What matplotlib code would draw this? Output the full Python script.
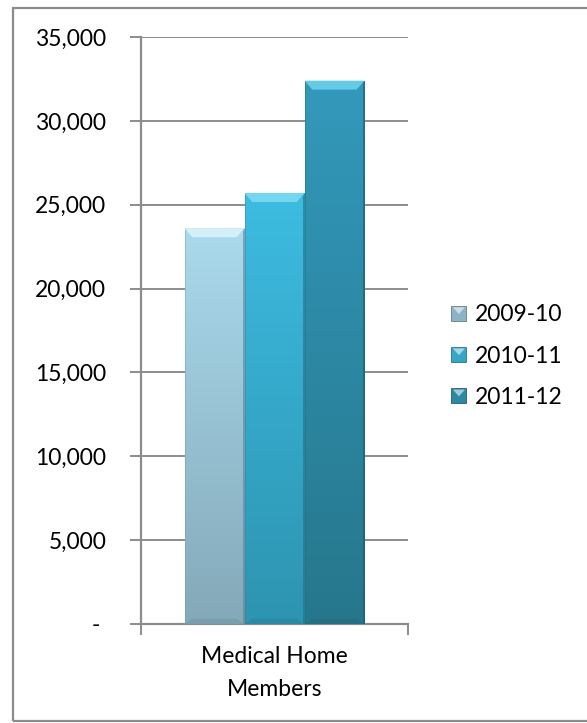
import numpy as np
import matplotlib
matplotlib.use("Agg")
import matplotlib.pyplot as plt
from matplotlib.patches import Rectangle, Polygon
from matplotlib.legend_handler import HandlerBase
from matplotlib.colors import to_rgb
from matplotlib.ticker import FuncFormatter

# Data
category = "Medical Home\nMembers"
series = ["2009-10", "2010-11", "2011-12"]
values = [23600, 25700, 32400]
yticks = [0, 5000, 10000, 15000, 20000, 25000, 30000, 35000]

# Styling: (top colour, bottom colour, bevel highlight)
bar_styles = [
    ("#AADAEC", "#84A9B9", "#DDF4FC"),
    ("#3DBCE1", "#2D94B1", "#7FDDF5"),
    ("#3399BC", "#26778C", "#6FD3EE"),
]
legend_colors = ["#8DB4C4", "#35A6C6", "#2E88A3"]
grid_color = "#8C8C8C"
fs = 16.5

plt.rcParams["font.family"] = ["Lato", "DejaVu Sans"]

fig = plt.figure(figsize=(5.87, 7.23), dpi=100)
ax = fig.add_axes([141 / 587, 1 - 624 / 723, 267 / 587, (624 - 37) / 723])

width = 60 / 267
offsets = [-width, 0.0, width]


def blend(c1, c2, t):
    a, b = np.array(to_rgb(c1)), np.array(to_rgb(c2))
    return a * (1 - t) + b * t


for off, val, (ctop, cbot, chi) in zip(offsets, values, bar_styles):
    x0, x1 = off - width / 2, off + width / 2
    bar = ax.bar(off, val, width=width, color="none", linewidth=0, zorder=3)[0]
    # vertical gradient fill
    t = np.linspace(0, 1, 256)[:, None]
    grad = blend(ctop, cbot, t)[:, None, :].reshape(256, 1, 3)
    im = ax.imshow(grad, extent=[x0, x1, 0, val], aspect="auto",
                   origin="upper", zorder=3, interpolation="bilinear")
    im.set_clip_path(bar)
    # bevel: top face, sides and bottom
    bw = width * 0.13
    bv = 9 * 35000 / 587  # bevel depth in data units (~9 px)
    ax.add_patch(Polygon([(x0, val), (x1, val), (x1 - bw, val - bv), (x0 + bw, val - bv)],
                         closed=True, facecolor=chi, edgecolor="none", zorder=4, alpha=0.85))
    ax.add_patch(Polygon([(x1, val), (x1, 0), (x1 - bw * 0.25, 0), (x1 - bw * 0.25, val - bv * 0.3)],
                         closed=True, facecolor=blend(cbot, "black", 0.25), edgecolor="none",
                         zorder=4, alpha=0.6))
    ax.add_patch(Polygon([(x0, val), (x0, 0), (x0 + bw * 0.2, 0), (x0 + bw * 0.2, val - bv * 0.3)],
                         closed=True, facecolor=blend(cbot, "black", 0.1), edgecolor="none",
                         zorder=4, alpha=0.4))
    ax.add_patch(Polygon([(x0, 0), (x1, 0), (x1 - bw, bv * 0.6), (x0 + bw, bv * 0.6)],
                         closed=True, facecolor=blend(cbot, "black", 0.12), edgecolor="none",
                         zorder=4, alpha=0.5))

ax.set_xlim(-0.5, 0.5)
ax.set_ylim(0, 35000)
ax.set_yticks(yticks)


def fmt(v, _):
    return "- " if v == 0 else f"{int(v):,}"


ax.yaxis.set_major_formatter(FuncFormatter(fmt))
ax.grid(axis="y", color=grid_color, linewidth=1.4, zorder=0)
ax.set_axisbelow(True)
for s in ["top", "right"]:
    ax.spines[s].set_visible(False)
for s in ["left", "bottom"]:
    ax.spines[s].set_color(grid_color)
    ax.spines[s].set_linewidth(1.6)
ax.tick_params(axis="y", length=8, width=1.4, color=grid_color, pad=17, labelsize=fs)
ax.set_xticks([-0.5, 0.5])
ax.set_xticklabels(["", ""])
ax.tick_params(axis="x", length=8, width=1.4, color=grid_color)
ax.text(0.0, -22 / 587, category, transform=ax.get_xaxis_transform(), ha="center", va="top",
        fontsize=fs, linespacing=1.7)


class BevelSquare(HandlerBase):
    def create_artists(self, legend, orig_handle, xdescent, ydescent, width, height,
                       fontsize, trans):
        c = orig_handle.get_facecolor()
        s = min(width, height)
        x0 = -xdescent + (width - s) / 2
        y0 = -ydescent + (height - s) / 2
        sq = Rectangle((x0, y0), s, s, facecolor=c, edgecolor=blend(c[:3], "black", 0.3),
                       linewidth=0.6, transform=trans)
        tri = Polygon([(x0 + 1, y0 + s - 1), (x0 + s - 1, y0 + s - 1), (x0 + s / 2, y0 + s * 0.45)],
                      closed=True, facecolor=blend(c[:3], "white", 0.55), edgecolor="none",
                      transform=trans)
        return [sq, tri]


handles = [Rectangle((0, 0), 1, 1, facecolor=c) for c in legend_colors]
fig.legend(handles, series, handler_map={Rectangle: BevelSquare()},
           loc="center left", bbox_to_anchor=(440 / 587, 1 - 356 / 723), frameon=False,
           fontsize=fs, handlelength=0.65, handleheight=0.65, handletextpad=0.35,
           labelspacing=0.88, borderpad=0)

# outer chart frame
fig.add_artist(Rectangle((13 / 587, 1 - 721 / 723), 1.2, (721 - 8) / 723,
                         transform=fig.transFigure, facecolor="none",
                         edgecolor=grid_color, linewidth=1.6, clip_on=False))

fig.savefig("out.png", dpi=100)
